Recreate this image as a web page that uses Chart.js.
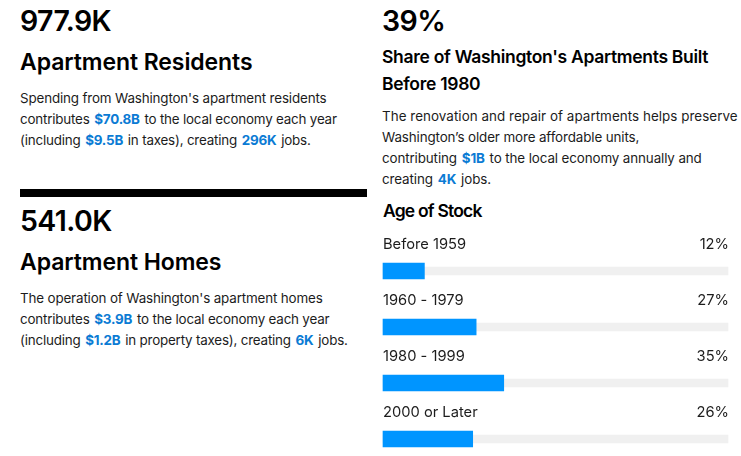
<!DOCTYPE html>
<html>
<head>
<meta charset="utf-8">
<script src="https://cdn.jsdelivr.net/npm/chart.js@4"></script>
<style>
  html, body { margin: 0; padding: 0; background: #fff; overflow: hidden; }
  body { width: 741px; height: 456px; position: relative; font-family: Inter, sans-serif; color: #1c1c1c; }
  .t { position: absolute; white-space: nowrap; line-height: 1; }
  .num { font-size: 28.5px; font-weight: 600; color: #000; letter-spacing: -0.6px; }
  .head { font-size: 23px; font-weight: 600; color: #000; letter-spacing: -0.08px; }
  .head2 { font-size: 17.5px; font-weight: 600; color: #000; letter-spacing: -0.3px; }
  .body { font-size: 13.4px; font-weight: 400; letter-spacing: -0.2px; }
  .sub { font-size: 17.5px; font-weight: 600; color: #000; letter-spacing: -0.8px; }
  b { color: #0b7bd4; font-weight: 700; margin: 0 1.2px; }
  #rule { position: absolute; left: 20px; top: 189px; width: 347px; height: 8px; background: #000; }
  #age-chart { position: absolute; left: 378px; top: 232px; }
</style>
</head>
<body>
<div class="t num" style="left:20px;top:7px">977.9K</div>
<div class="t head" style="left:20px;top:51px">Apartment Residents</div>
<div class="t body" style="left:20px;top:92px;letter-spacing:-0.15px">Spending from Washington's apartment residents</div>
<div class="t body" style="left:20px;top:113px">contributes <b>$70.8B</b> to the local economy each year</div>
<div class="t body" style="left:20px;top:134px">(including <b>$9.5B</b> in taxes), creating <b>296K</b> jobs.</div>
<div id="rule"></div>
<div class="t num" style="left:20px;top:207px">541.0K</div>
<div class="t head" style="left:20px;top:251px">Apartment Homes</div>
<div class="t body" style="left:20px;top:292px;letter-spacing:-0.15px">The operation of Washington's apartment homes</div>
<div class="t body" style="left:20px;top:313px">contributes <b>$3.9B</b> to the local economy each year</div>
<div class="t body" style="left:20px;top:334px">(including <b>$1.2B</b> in property taxes), creating <b>6K</b> jobs.</div>

<div class="t num" style="left:382px;top:7px">39%</div>
<div class="t head2" style="left:382px;top:48px">Share of Washington's Apartments Built</div>
<div class="t head2" style="left:382px;top:75px">Before 1980</div>
<div class="t body" style="left:382px;top:110px;letter-spacing:0.05px">The renovation and repair of apartments helps preserve</div>
<div class="t body" style="left:382px;top:131px;letter-spacing:-0.12px">Washington’s older more affordable units,</div>
<div class="t body" style="left:382px;top:152px;letter-spacing:-0.12px">contributing <b>$1B</b> to the local economy annually and</div>
<div class="t body" style="left:382px;top:173px;letter-spacing:-0.1px">creating <b>4K</b> jobs.</div>
<div class="t sub" style="left:383px;top:202px">Age of Stock</div>

<canvas id="age-chart" width="363" height="224"></canvas>

<script>
  const ageLabels = ["Before 1959", "1960 - 1979", "1980 - 1999", "2000 or Later"];
  const ageShares = [12, 27, 35, 26];
  const fullTrack = [100, 100, 100, 100];

  // Puts the category name and the share above each bar
  const rowLabels = {
    id: "rowLabels",
    afterDatasetsDraw(chart) {
      const { ctx, scales, chartArea } = chart;
      ctx.save();
      ctx.font = "400 14.7px Inter, sans-serif";
      ctx.fillStyle = "#1c1c1c";
      ctx.textBaseline = "middle";
      ageLabels.forEach((label, i) => {
        const y = scales.y.getPixelForValue(i) - 26;
        ctx.textAlign = "left";
        ctx.fillText(label, chartArea.left, y);
        ctx.textAlign = "right";
        ctx.fillText(ageShares[i] + "%", chartArea.right + 1, y);
      });
      ctx.restore();
    },
  };

  new Chart(document.getElementById("age-chart"), {
    type: "bar",
    data: {
      labels: ageLabels,
      datasets: [
        { data: ageShares, backgroundColor: "#0095ff", barThickness: 16, grouped: false, clip: false, order: 1 },
        { data: fullTrack, backgroundColor: "#f0f0f0", barThickness: 8, grouped: false, clip: false, order: 2 },
      ],
    },
    options: {
      indexAxis: "y",
      responsive: false,
      animation: false,
      layout: { padding: { left: 5, right: 13, top: 39, bottom: 17 } },
      scales: {
        x: { display: false, min: 0, max: 100 },
        y: { display: false, offset: false },
      },
      plugins: { legend: { display: false }, tooltip: { enabled: false } },
    },
    plugins: [rowLabels],
  });
</script>
</body>
</html>
